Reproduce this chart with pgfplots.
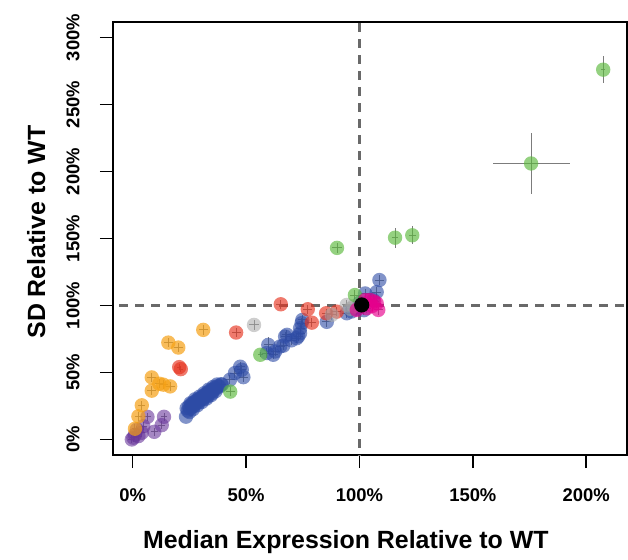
\documentclass[border=0pt]{standalone}
\usepackage{pgfplots}
\pgfplotsset{compat=1.18}
\usepackage{pgfplotstable}
\usepackage{fontspec}
\setmainfont{Liberation Sans}

\definecolor{cblue}{RGB}{45,75,165}
\definecolor{cgreen}{RGB}{90,185,60}
\definecolor{corange}{RGB}{245,160,20}
\definecolor{cred}{RGB}{230,50,30}
\definecolor{cgrey}{RGB}{165,165,165}
\definecolor{cmag}{RGB}{230,0,140}
\definecolor{cpurple}{RGB}{105,55,155}
\definecolor{cerr}{RGB}{110,110,110}
\definecolor{cdash}{RGB}{105,105,105}

\pgfplotstableread{
x y
0.235 0.170
0.238 0.233
0.243 0.215
0.248 0.245
0.252 0.230
0.258 0.255
0.262 0.245
0.267 0.268
0.272 0.262
0.277 0.282
0.282 0.275
0.287 0.295
0.292 0.290
0.297 0.305
0.302 0.300
0.307 0.318
0.312 0.312
0.317 0.330
0.322 0.325
0.327 0.342
0.332 0.338
0.338 0.355
0.344 0.352
0.350 0.370
0.356 0.368
0.362 0.385
0.368 0.382
0.375 0.398
0.382 0.395
0.390 0.412
0.270 0.250
0.290 0.275
0.310 0.300
0.330 0.322
0.350 0.345
0.300 0.310
0.320 0.335
0.260 0.265
0.280 0.290
0.340 0.365
0.250 0.205
0.265 0.225
0.285 0.255
0.305 0.280
0.325 0.305
0.345 0.330
0.365 0.360
0.255 0.270
0.275 0.300
0.295 0.320
0.315 0.345
0.335 0.372
0.355 0.392
0.372 0.410
}\blueband

\pgfplotstableread{
x y ex ey
0.393 0.409 0.02 0.035
0.429 0.446 0.02 0.035
0.451 0.496 0.02 0.035
0.474 0.543 0.02 0.035
0.488 0.465 0.02 0.035
0.481 0.520 0.02 0.035
0.591 0.645 0.02 0.035
0.598 0.706 0.02 0.060
0.620 0.632 0.02 0.035
0.628 0.657 0.02 0.035
0.650 0.694 0.02 0.035
0.664 0.700 0.02 0.035
0.672 0.768 0.02 0.035
0.680 0.781 0.02 0.035
0.700 0.740 0.02 0.035
0.723 0.756 0.02 0.035
0.730 0.770 0.02 0.035
0.738 0.793 0.02 0.035
0.738 0.830 0.02 0.035
0.745 0.868 0.02 0.035
0.748 0.892 0.02 0.035
0.856 0.878 0.02 0.035
0.944 0.942 0.02 0.035
0.965 0.955 0.02 0.035
0.990 0.975 0.02 0.035
1.020 0.965 0.02 0.035
1.000 1.020 0.02 0.035
1.025 1.090 0.02 0.035
1.061 1.040 0.02 0.035
1.076 1.100 0.02 0.035
1.088 1.190 0.02 0.035
}\bluetab

\pgfplotstableread{
x y ex ey
0.065 0.169 0.015 0.03
0.138 0.169 0.015 0.03
0.128 0.107 0.015 0.03
0.095 0.057 0.015 0.03
0.047 0.099 0.015 0.03
0.018 0.074 0.015 0.03
0.003 0.013 0.015 0.03
0.025 0.025 0.015 0.03
0.040 0.050 0.015 0.03
-0.004 0.000 0.015 0.03
0.010 0.035 0.015 0.03
}\purpletab

\pgfplotstableread{
x y ex ey
0.311 0.818 0.02 0.035
0.157 0.723 0.02 0.035
0.201 0.686 0.02 0.035
0.084 0.463 0.02 0.035
0.117 0.416 0.02 0.035
0.084 0.364 0.02 0.035
0.165 0.396 0.02 0.035
0.135 0.409 0.02 0.035
0.040 0.255 0.015 0.035
0.025 0.173 0.015 0.035
0.010 0.080 0.015 0.035
}\orangetab

\pgfplotstableread{
x y ex ey
0.653 1.009 0.02 0.035
0.772 0.972 0.02 0.035
0.456 0.798 0.02 0.035
0.790 0.872 0.02 0.035
0.205 0.540 0.01 0.02
0.212 0.525 0.01 0.02
0.853 0.942 0.02 0.035
0.900 0.954 0.02 0.035
}\redtab

\pgfplotstableread{
x y ex ey
0.535 0.855 0.02 0.035
0.878 0.930 0.02 0.035
0.944 1.004 0.02 0.035
0.975 0.995 0.02 0.035
0.960 0.975 0.02 0.035
}\greytab

\pgfplotstableread{
x y ex ey
2.075 2.760 0.010 0.100
1.757 2.060 0.170 0.230
1.157 1.506 0.015 0.075
1.233 1.524 0.015 0.066
0.901 1.430 0.020 0.035
0.430 0.357 0.020 0.035
0.5625 0.632 0.010 0.020
0.980 1.078 0.020 0.035
}\greentab

\pgfplotstableread{
x y ex ey
1.047 1.041 0.02 0.035
1.076 1.016 0.02 0.035
1.083 0.967 0.02 0.035
1.032 0.979 0.02 0.035
0.988 0.967 0.02 0.035
1.056 0.996 0.02 0.035
1.025 1.040 0.02 0.035
1.065 1.030 0.02 0.035
}\magtab

\pgfplotstableread{
x y
1.010 1.004
}\blacktab

\begin{document}
\begin{tikzpicture}
\path[use as bounding box] (-113bp,-105bp) rectangle (515bp,455bp);
\begin{axis}[
  at={(0,0)}, anchor=south west,
  scale only axis, width=514bp, height=433bp,
  xmin=-0.087, xmax=2.18, ymin=-0.116, ymax=3.116,
  xtick={0,0.5,1,1.5,2},
  xticklabels={0\%,50\%,100\%,150\%,200\%},
  ytick={0,0.5,1,1.5,2,2.5,3},
  yticklabels={0\%,50\%,100\%,150\%,200\%,250\%,300\%},
  tick align=outside, tick pos=left,
  major tick length=13bp,
  every tick/.style={black, line width=1.5bp},
  axis line style={line width=1.6bp},
  ticklabel style={font=\fontsize{18.5}{20}\selectfont\bfseries},
  xticklabel shift=17bp,
  yticklabel style={rotate=90, anchor=south},
  yticklabel shift=17bp,
  xlabel={Median Expression Relative to WT},
  ylabel={SD Relative to WT},
  every axis x label/.style={at={(axis description cs:0.453,-0.217)}, anchor=base, font=\fontsize{25}{28}\selectfont\bfseries},
  every axis y label/.style={at={(axis description cs:-0.1323,0.515)}, rotate=90, anchor=base, font=\fontsize{25}{28}\selectfont\bfseries},
  clip=true,
  every axis plot/.append style={only marks, mark=*, mark size=7.2bp,
     error bars/error bar style={cerr, line width=1bp, opacity=0.9},
     error bars/error mark=none},
]
\draw[cdash, line width=2.1bp, dash pattern=on 9bp off 7bp] (axis cs:1,-0.3) -- (axis cs:1,3.3);
\draw[cdash, line width=2.1bp, dash pattern=on 9bp off 7bp] (axis cs:-0.2,1) -- (axis cs:2.3,1);

\addplot[color=cblue, mark options={draw opacity=0, fill=cblue, fill opacity=0.6}] table[x=x,y=y] {\blueband};
\addplot[color=cblue, mark options={draw opacity=0, fill=cblue, fill opacity=0.6},
  error bars/.cd, x dir=both, x explicit, y dir=both, y explicit]
  table[x=x,y=y,x error=ex,y error=ey] {\bluetab};
\addplot[color=cpurple, mark options={draw opacity=0, fill=cpurple, fill opacity=0.6},
  error bars/.cd, x dir=both, x explicit, y dir=both, y explicit]
  table[x=x,y=y,x error=ex,y error=ey] {\purpletab};
\addplot[color=corange, mark options={draw opacity=0, fill=corange, fill opacity=0.7},
  error bars/.cd, x dir=both, x explicit, y dir=both, y explicit]
  table[x=x,y=y,x error=ex,y error=ey] {\orangetab};
\addplot[color=cred, mark options={draw opacity=0, fill=cred, fill opacity=0.65},
  error bars/.cd, x dir=both, x explicit, y dir=both, y explicit]
  table[x=x,y=y,x error=ex,y error=ey] {\redtab};
\addplot[color=cgrey, mark options={draw opacity=0, fill=cgrey, fill opacity=0.55},
  error bars/.cd, x dir=both, x explicit, y dir=both, y explicit]
  table[x=x,y=y,x error=ex,y error=ey] {\greytab};
\addplot[color=cgreen, mark options={draw opacity=0, fill=cgreen, fill opacity=0.65},
  error bars/.cd, x dir=both, x explicit, y dir=both, y explicit]
  table[x=x,y=y,x error=ex,y error=ey] {\greentab};
\addplot[color=cmag, mark options={draw opacity=0, fill=cmag, fill opacity=0.65},
  error bars/.cd, x dir=both, x explicit, y dir=both, y explicit]
  table[x=x,y=y,x error=ex,y error=ey] {\magtab};
\addplot[color=black, mark size=7.6bp, mark options={draw opacity=0, fill=black}] table[x=x,y=y] {\blacktab};
\end{axis}
\end{tikzpicture}
\end{document}
